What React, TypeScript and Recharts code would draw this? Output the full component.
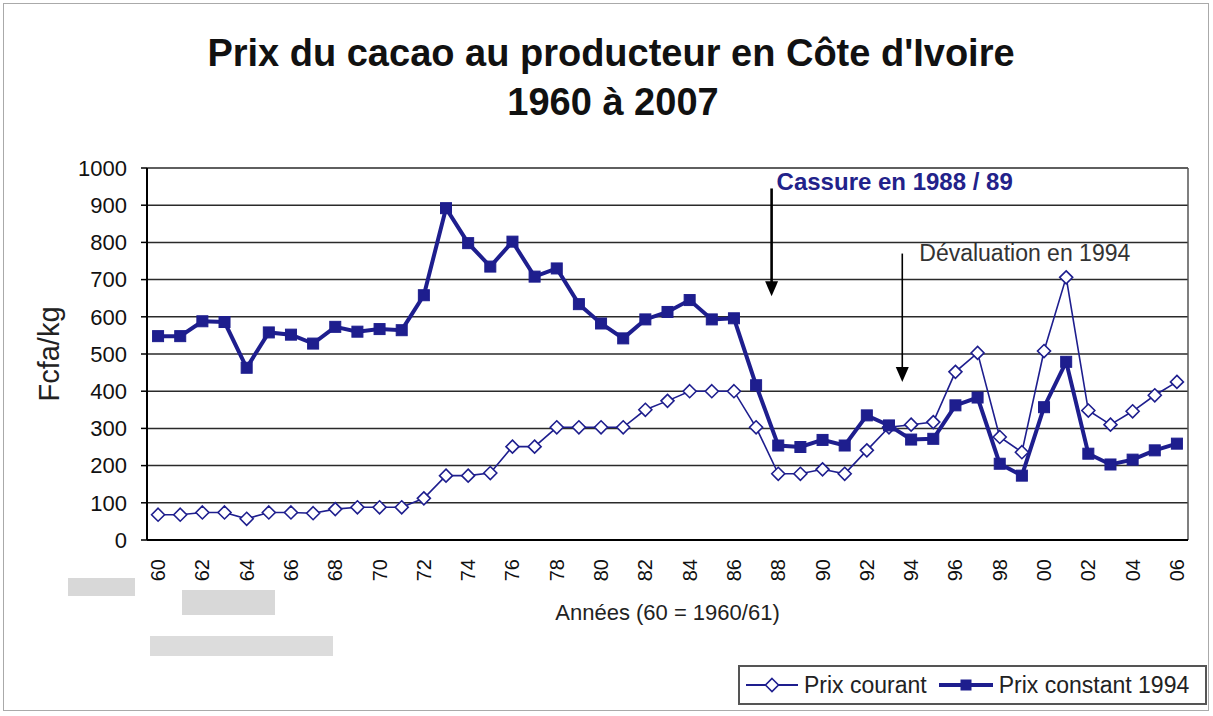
import React from 'react';
import {
  LineChart, Line, XAxis, YAxis, CartesianGrid, Legend, ReferenceLine,
} from 'recharts';

const YEARS = [
  '60','61','62','63','64','65','66','67','68','69',
  '70','71','72','73','74','75','76','77','78','79',
  '80','81','82','83','84','85','86','87','88','89',
  '90','91','92','93','94','95','96','97','98','99',
  '00','01','02','03','04','05','06',
];
const PRIX_COURANT = [
  68, 68, 74, 74, 57, 74, 74, 72, 83, 88,
  88, 88, 112, 173, 173, 180, 251, 251, 303, 303,
  303, 303, 350, 374, 400, 400, 400, 303, 178, 178,
  190, 178, 241, 303, 310, 317, 452, 503, 277, 236,
  508, 706, 348, 310, 346, 389, 425,
];
const PRIX_CONSTANT = [
  548, 548, 588, 586, 463, 558, 552, 528, 573, 560,
  567, 564, 658, 892, 798, 735, 802, 708, 730, 634,
  582, 542, 593, 613, 645, 593, 596, 416, 254, 250,
  269, 254, 335, 308, 270, 272, 362, 383, 205, 173,
  357, 479, 232, 203, 216, 241, 259,
];
const Y_TICKS = [0, 100, 200, 300, 400, 500, 600, 700, 800, 900, 1000];
const LABEL_TICKS = YEARS.map((_, i) => i).filter((i) => i % 2 === 0);
const BOUNDARY_TICKS = [...YEARS.map((_, i) => i - 0.5), YEARS.length - 0.5];

// annotations (data space: x = category index, y = Fcfa/kg)
const CASSURE = { x: 27.7, y1: 945, y2: 655, text: 'Cassure en 1988 / 89' };
const DEVAL = { x: 33.6, y1: 770, y2: 425, text: 'Dévaluation en 1994' };

const data = YEARS.map((y, i) => ({
  idx: i,
  year: y,
  courant: PRIX_COURANT[i],
  constant: PRIX_CONSTANT[i],
}));

const NAVY = '#1e1e8e';
const FONT = '"Liberation Sans", Arial, sans-serif';

const Diamond = (props: any) => {
  const { cx, cy } = props;
  if (cx == null || cy == null) return null;
  const s = 6.5;
  return (
    <polygon
      points={`${cx},${cy - s} ${cx + s},${cy} ${cx},${cy + s} ${cx - s},${cy}`}
      fill="#fff"
      stroke={NAVY}
      strokeWidth={1.6}
    />
  );
};

const Square = (props: any) => {
  const { cx, cy } = props;
  if (cx == null || cy == null) return null;
  const s = 5.5;
  return <rect x={cx - s} y={cy - s} width={2 * s} height={2 * s} fill={NAVY} stroke={NAVY} />;
};

const XLabelTick = (props: any) => {
  const { x, y, payload } = props;
  return (
    <text
      transform={`translate(${x},${y}) rotate(-90)`}
      textAnchor="end"
      dominantBaseline="central"
      fontSize={20}
      fontFamily={FONT}
      fill="#111"
    >
      {YEARS[payload.value]}
    </text>
  );
};

const makeArrow = (text: string, opts: { bold: boolean; color: string; width: number; dx: number; dy: number; size: number }) =>
  (props: any) => {
    const { x1, y1, x2, y2 } = props;
    if (x1 == null) return null;
    const top = Math.min(y1, y2);
    const tip = Math.max(y1, y2);
    const x = x1;
    const head = 15;
    return (
      <g>
        <line x1={x} y1={top} x2={x} y2={tip - head + 2} stroke="#000" strokeWidth={opts.width} />
        <polygon points={`${x - 6.5},${tip - head} ${x + 6.5},${tip - head} ${x},${tip}`} fill="#000" />
        <text
          x={x + opts.dx}
          y={top + opts.dy}
          fontSize={opts.size}
          fontWeight={opts.bold ? 'bold' : 'normal'}
          fill={opts.color}
          fontFamily={FONT}
        >
          {text}
        </text>
      </g>
    );
  };

const CassureShape = makeArrow(CASSURE.text, { bold: true, color: '#22228a', width: 2.6, dx: 5, dy: 2, size: 24 });
const DevalShape = makeArrow(DEVAL.text, { bold: false, color: '#333', width: 1.6, dx: 17, dy: 7, size: 23 });

const LegendContent = () => (
  <div
    style={{
      width: '100%',
      height: '100%',
      boxSizing: 'border-box',
      border: '2px solid #555',
      display: 'flex',
      alignItems: 'center',
      paddingLeft: 6,
      fontFamily: FONT,
      fontSize: 23,
      color: '#222',
      background: '#fff',
      whiteSpace: 'nowrap',
    }}
  >
    <svg width={52} height={20} style={{ marginRight: 6 }}>
      <line x1={0} y1={10} x2={52} y2={10} stroke={NAVY} strokeWidth={2} />
      <polygon points="26,3.5 32.5,10 26,16.5 19.5,10" fill="#fff" stroke={NAVY} strokeWidth={1.6} />
    </svg>
    <span>Prix courant</span>
    <svg width={54} height={20} style={{ marginLeft: 12, marginRight: 6 }}>
      <line x1={0} y1={10} x2={54} y2={10} stroke={NAVY} strokeWidth={4} />
      <rect x={21.5} y={4.5} width={11} height={11} fill={NAVY} />
    </svg>
    <span>Prix constant 1994</span>
  </div>
);

export default function App() {
  return (
    <div
      style={{
        position: 'absolute',
        left: 0,
        top: 0,
        width: 1213,
        height: 716,
        background: '#fff',
        fontFamily: FONT,
        overflow: 'hidden',
      }}
    >
      <div style={{ position: 'absolute', left: 3, top: 3, width: 1204, height: 706, border: '1px solid #aaa' }} />
      <div style={{ position: 'absolute', left: 68, top: 578, width: 67, height: 18, background: '#d8d8d8' }} />
      <div style={{ position: 'absolute', left: 182, top: 590, width: 93, height: 25, background: '#d8d8d8' }} />
      <div style={{ position: 'absolute', left: 150, top: 636, width: 183, height: 20, background: '#dcdcdc' }} />
      <div
        style={{
          position: 'absolute', left: 0, width: 1222, top: 34, textAlign: 'center',
          fontSize: 38, lineHeight: '38px', fontWeight: 'bold', color: '#111',
        }}
      >
        Prix du cacao au producteur en Côte d'Ivoire
      </div>
      <div
        style={{
          position: 'absolute', left: 0, width: 1226, top: 83, textAlign: 'center',
          fontSize: 38, lineHeight: '38px', fontWeight: 'bold', color: '#111',
        }}
      >
        1960 à 2007
      </div>
      <div style={{ position: 'absolute', left: 0, top: 0 }}>
        <LineChart
          width={1213}
          height={716}
          data={data}
          margin={{ top: 168, right: 25, left: 47, bottom: 83 }}
        >
          <CartesianGrid vertical={false} stroke="#2a2a2a" strokeWidth={1.5} />
          <XAxis
            xAxisId="a_ticks"
            type="number"
            dataKey="idx"
            domain={[-0.5, YEARS.length - 0.5]}
            ticks={BOUNDARY_TICKS}
            interval={0}
            tick={false}
            tickSize={6}
            tickLine={{ stroke: '#000', strokeWidth: 1.5 }}
            axisLine={{ stroke: '#000', strokeWidth: 2 }}
            height={8}
            allowDataOverflow
          />
          <XAxis
            xAxisId="b_labels"
            type="number"
            dataKey="idx"
            domain={[-0.5, YEARS.length - 0.5]}
            ticks={LABEL_TICKS}
            interval={0}
            tick={<XLabelTick />}
            tickLine={false}
            tickSize={0}
            tickMargin={11}
            axisLine={false}
            height={85}
            allowDataOverflow
            label={{
              value: 'Années (60 = 1960/61)',
              position: 'insideBottom',
              offset: 13,
              fontSize: 22,
              fill: '#222',
              fontFamily: FONT,
            }}
          />
          <YAxis
            domain={[0, 1000]}
            ticks={Y_TICKS}
            interval={0}
            width={100}
            tickSize={6}
            tickMargin={14}
            tick={{ fontSize: 22, fill: '#111', fontFamily: FONT }}
            tickLine={{ stroke: '#000', strokeWidth: 1.5 }}
            axisLine={{ stroke: '#000', strokeWidth: 2 }}
            label={{
              value: 'Fcfa/kg',
              angle: -90,
              position: 'insideLeft',
              offset: 2,
              fontSize: 29,
              fill: '#222',
              fontFamily: FONT,
              style: { textAnchor: 'middle' },
            }}
          />
          <ReferenceLine xAxisId="b_labels" x={YEARS.length - 0.5} stroke="#555" strokeWidth={1.5} />
          <ReferenceLine
            xAxisId="b_labels"
            segment={[{ x: CASSURE.x, y: CASSURE.y1 }, { x: CASSURE.x, y: CASSURE.y2 }]}
            shape={CassureShape}
          />
          <ReferenceLine
            xAxisId="b_labels"
            segment={[{ x: DEVAL.x, y: DEVAL.y1 }, { x: DEVAL.x, y: DEVAL.y2 }]}
            shape={DevalShape}
          />
          <Line
            xAxisId="b_labels"
            name="Prix courant"
            dataKey="courant"
            type="linear"
            stroke={NAVY}
            strokeWidth={1.6}
            dot={<Diamond />}
            activeDot={false}
            isAnimationActive={false}
          />
          <Line
            xAxisId="b_labels"
            name="Prix constant 1994"
            dataKey="constant"
            type="linear"
            stroke={NAVY}
            strokeWidth={4}
            dot={<Square />}
            activeDot={false}
            isAnimationActive={false}
          />
          <Legend
            layout="horizontal"
            verticalAlign="middle"
            align="center"
            content={<LegendContent />}
            wrapperStyle={{ left: 738, top: 665, width: 469, height: 40 }}
          />
        </LineChart>
      </div>
    </div>
  );
}
